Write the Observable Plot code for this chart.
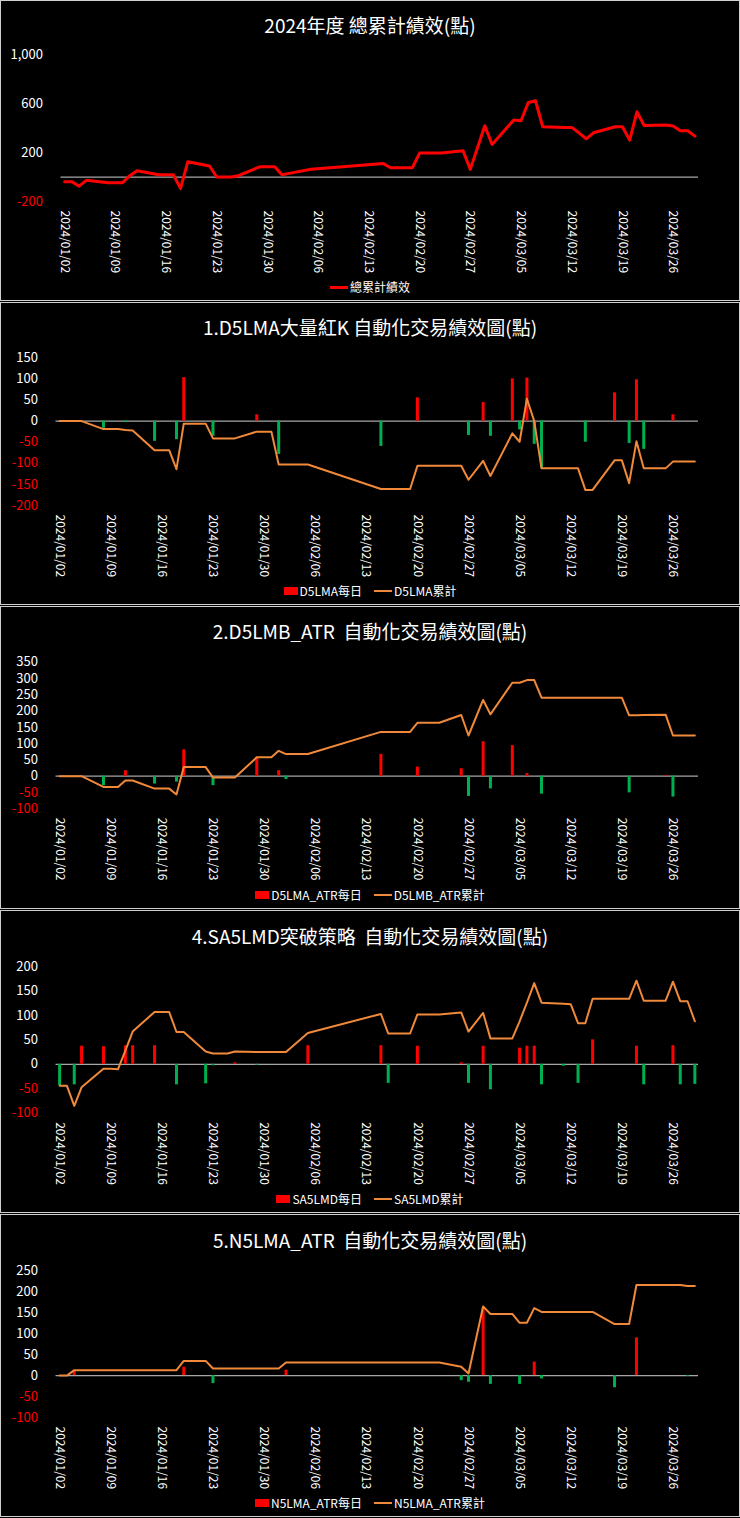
<!DOCTYPE html>
<html>
<head>
<meta charset="utf-8">
<script src="https://cdn.jsdelivr.net/npm/d3@7"></script>
<script src="https://cdn.jsdelivr.net/npm/@observablehq/plot@0.6"></script>
<style>
html, body { margin: 0; padding: 0; background: #000; }
body { width: 740px; height: 1518px; position: relative; overflow: hidden;
  font-family: "Noto Sans CJK TC", "Noto Sans", sans-serif; color: #fff; }
.panel { position: absolute; left: 0; width: 740px; box-sizing: border-box; border: 1.5px solid #cfcfcf; }
.title { position: absolute; left: 0; width: 740px; text-align: center; font-size: 19px; line-height: 24px;
  color: #fff; white-space: pre; }
.legend { position: absolute; left: 0; width: 740px; display: flex; justify-content: center; align-items: center;
  gap: 12px; font-size: 12px; line-height: 14px; color: #fff; white-space: nowrap; }
.legend .item { display: flex; align-items: center; gap: 2px; }
.chart { position: absolute; left: 0; }
</style>
</head>
<body>
<script>
// ---------------- data ----------------
const dates = [
  "2024-01-02","2024-01-03","2024-01-04","2024-01-05",
  "2024-01-08","2024-01-09","2024-01-10","2024-01-11","2024-01-12",
  "2024-01-15","2024-01-16","2024-01-17","2024-01-18","2024-01-19",
  "2024-01-22","2024-01-23","2024-01-24","2024-01-25","2024-01-26",
  "2024-01-29","2024-01-30","2024-01-31",
  "2024-02-01","2024-02-02",
  "2024-02-05",
  "2024-02-15","2024-02-16",
  "2024-02-19","2024-02-20","2024-02-21","2024-02-22","2024-02-23",
  "2024-02-26","2024-02-27","2024-02-29",
  "2024-03-01",
  "2024-03-04","2024-03-05","2024-03-06","2024-03-07","2024-03-08",
  "2024-03-11","2024-03-12","2024-03-13","2024-03-14","2024-03-15",
  "2024-03-18","2024-03-19","2024-03-20","2024-03-21","2024-03-22",
  "2024-03-25","2024-03-26","2024-03-27","2024-03-28","2024-03-29"
];
const xTicks = ["2024-01-02","2024-01-09","2024-01-16","2024-01-23","2024-01-30","2024-02-06","2024-02-13",
  "2024-02-20","2024-02-27","2024-03-05","2024-03-12","2024-03-19","2024-03-26"];

const totalCum = [-38,-38,-74,-27, -46,-46,-46,11,52, 19,19,19,-93,125, 90,0,0,0,11, 85,85,85, 19,30, 63,
  110,76, 76,196,196,196,196, 215,63,420, 267, 466,460,610,624,411, 406,406,362,313,362,
  411,411,302,534,422, 425,417,379,379,335];

const d5lmaDaily = [0,0,0,0, -17,0,0,-3,0, -48,0,0,-44,103, 0,-36,0,0,0, 15,0,0, -79,0, 0,
  -60,0, 0,55,0,0,0, 0,-34,44, -36, 100,-21,102,-55,-111, 0,0,0,-50,0,
  67,0,-53,98,-67, 0,15,0,0,0];
const d5lmaCum = [0,0,0,0, -19,-19,-19,-21,-22, -69,-69,-69,-114,-6, -6,-41,-41,-41,-41, -25,-25,-25, -103,-103, -103,
  -161,-161, -161,-106,-106,-106,-106, -106,-139,-94, -130, -29,-49,53,0,-112, -112,-112,-112,-163,-163,
  -93,-93,-147,-48,-112, -112,-96,-96,-96,-96];

const d5lmbDaily = [0,0,0,0, -29,0,0,17,0, -24,0,0,-18,81, 0,-29,0,0,0, 58,0,0, 17,-10, 0,
  67,0, 0,28,0,0,0, 23,-62,106, -39, 94,0,8,0,-55, 0,0,0,0,0,
  0,0,-51,0,0, 2,-64,0,0,0];
const d5lmbCum = [0,0,0,0, -33,-33,-33,-13,-13, -38,-38,-38,-56,28, 28,-4,-4,-4,-4, 58,58,58, 78,68, 68,
  136,136, 136,164,164,164,164, 188,125,234, 190, 287,287,295,295,241, 241,241,241,241,241,
  241,241,187,187,188, 189,125,125,125,125];

const sa5lmdDaily = [-44,0,-42,37, 36,0,0,38,38, 38,0,0,-42,0, -40,-3,0,0,3, -2,0,0, 0,0, 38,
  38,-39, 0,37,0,0,0, 3,-39,37, -52, 0,33,37,37,-42, -4,0,-39,0,50,
  0,0,0,37,-42, 0,38,-42,0,-41];
const sa5lmdCum = [-44,-44,-85,-47, -9,-9,-10,28,67, 107,107,107,66,66, 26,22,22,22,26, 25,25,25, 25,25, 64,
  103,63, 63,102,102,102,102, 106,67,105, 53, 53,88,126,166,126, 124,123,84,84,134,
  134,134,134,171,130, 130,169,129,129,88];

const n5lmaDaily = [0,0,12,0, 0,0,0,0,0, 0,0,0,0,20, 0,-19,0,0,0, 0,0,0, 0,13, 0,
  0,0, 0,0,0,0,0, -12,-16,160, -21, 0,-21,0,32,-8, 0,0,0,0,0,
  -29,0,0,90,0, 0,0,0,-2,0];
const n5lmaCum = [0,0,13,13, 13,13,13,13,13, 13,13,13,13,35, 35,17,17,17,17, 17,17,17, 17,31, 31,
  31,31, 31,31,31,31,31, 21,5,165, 147, 147,126,126,161,152, 152,152,152,152,152,
  123,123,123,216,216, 216,216,216,214,214];

const titles = [
  "2024年度 總累計績效(點)",
  "1.D5LMA大量紅K 自動化交易績效圖(點)",
  "2.D5LMB_ATR  自動化交易績效圖(點)",
  "4.SA5LMD突破策略  自動化交易績效圖(點)",
  "5.N5LMA_ATR  自動化交易績效圖(點)"
];
const dailyNames = [null, "D5LMA每日", "D5LMA_ATR每日", "SA5LMD每日", "N5LMA_ATR每日"];
const cumNames = ["總累計績效", "D5LMA累計", "D5LMB_ATR累計", "SA5LMD累計", "N5LMA_ATR累計"];
const yTicksList = [
  [-200, 200, 600, 1000],
  [-200, -150, -100, -50, 0, 50, 100, 150],
  [-100, -50, 0, 50, 100, 150, 200, 250, 300, 350],
  [-100, -50, 0, 50, 100, 150, 200],
  [-100, -50, 0, 50, 100, 150, 200, 250]
];

// ---------------- styling / layout ----------------
const RED = "#ff0000", GREEN = "#00b050", ORANGE = "#f0893a", ZERO = "#a6a6a6";
const parse = s => new Date(s + "T00:00:00Z");
const fmtDate = d3.utcFormat("%Y/%m/%d");
const fmtNum = v => v.toLocaleString("en-US");
const xDomain = [new Date("2024-01-01T12:00:00Z"), new Date("2024-03-29T12:00:00Z")];

const panels = [
  {box: [0, 301], svgTop: 0, mL: 60.5, mT: 54.3, mB: 99, titleC: 25, legendC: 287,
   daily: null, cum: totalCum, lineColor: RED, lineWidth: 3},
  {box: [302, 605], svgTop: 302, mL: 55.5, mT: 55.3, mB: 97, titleC: 326.5, legendC: 591,
   daily: d5lmaDaily, cum: d5lmaCum, lineColor: ORANGE, lineWidth: 2},
  {box: [606, 909], svgTop: 607, mL: 55.5, mT: 54.7, mB: 98.7, titleC: 630.5, legendC: 895,
   daily: d5lmbDaily, cum: d5lmbCum, lineColor: ORANGE, lineWidth: 2},
  {box: [910, 1213], svgTop: 910, mL: 55.5, mT: 56, mB: 97.3, titleC: 935.5, legendC: 1199,
   daily: sa5lmdDaily, cum: sa5lmdCum, lineColor: ORANGE, lineWidth: 2},
  {box: [1214, 1517], svgTop: 1214, mL: 55.5, mT: 56.3, mB: 97, titleC: 1239.5, legendC: 1503,
   daily: n5lmaDaily, cum: n5lmaCum, lineColor: ORANGE, lineWidth: 2}
];

function makeChart(p, i) {
  const rows = dates.map((d, k) => ({date: parse(d), cum: p.cum[k], daily: p.daily ? p.daily[k] : 0}));
  const yT = yTicksList[i];
  const marks = [Plot.ruleY([0], {stroke: ZERO, strokeWidth: 1.3})];
  if (p.daily) {
    marks.push(Plot.ruleX(rows.filter(r => r.daily > 0), {x: "date", y1: 0, y2: "daily", stroke: RED, strokeWidth: 3}));
    marks.push(Plot.ruleX(rows.filter(r => r.daily < 0), {x: "date", y1: 0, y2: "daily", stroke: GREEN, strokeWidth: 3}));
  }
  marks.push(Plot.line(rows, {x: "date", y: "cum", stroke: p.lineColor, strokeWidth: p.lineWidth, strokeLinejoin: "round"}));
  marks.push(Plot.axisY(yT.filter(v => v >= 0), {tickSize: 0, tickPadding: 18, tickFormat: fmtNum, fill: "#ffffff", fontSize: 13, label: null}));
  marks.push(Plot.axisY(yT.filter(v => v < 0), {tickSize: 0, tickPadding: 18, tickFormat: fmtNum, fill: RED, fontSize: 13, label: null}));
  marks.push(Plot.axisX(xTicks.map(parse), {tickRotate: 90, tickSize: 0, tickPadding: 9, tickFormat: fmtDate, fill: "#ffffff", fontSize: 12, label: null}));
  const svg = Plot.plot({
    width: 740, height: 300,
    marginLeft: p.mL, marginRight: 42, marginTop: p.mT, marginBottom: p.mB,
    x: {type: "utc", domain: xDomain, axis: null},
    y: {domain: [yT[0], yT[yT.length - 1]], axis: null},
    style: {background: "transparent", color: "#fff", fontFamily: "'Noto Sans CJK TC', 'Noto Sans', sans-serif", overflow: "visible"},
    marks
  });
  svg.classList.add("chart");
  svg.style.top = p.svgTop + "px";
  svg.style.position = "absolute";
  return svg;
}

panels.forEach((p, i) => {
  const box = document.createElement("div");
  box.className = "panel";
  box.style.top = p.box[0] + "px";
  box.style.height = (p.box[1] - p.box[0]) + "px";
  document.body.appendChild(box);

  document.body.appendChild(makeChart(p, i));

  const t = document.createElement("div");
  t.className = "title";
  t.style.top = (p.titleC - 12) + "px";
  t.textContent = titles[i];
  document.body.appendChild(t);

  const lg = document.createElement("div");
  lg.className = "legend";
  lg.style.top = (p.legendC - 7) + "px";
  if (dailyNames[i]) {
    const it = document.createElement("div");
    it.className = "item";
    it.innerHTML = `<span style="display:inline-block;width:14px;height:8px;background:${RED}"></span><span>${dailyNames[i]}</span>`;
    lg.appendChild(it);
  }
  const it2 = document.createElement("div");
  it2.className = "item";
  it2.innerHTML = `<span style="display:inline-block;width:18px;height:${p.lineWidth}px;background:${p.lineColor}"></span><span>${cumNames[i]}</span>`;
  lg.appendChild(it2);
  document.body.appendChild(lg);
});
</script>
</body>
</html>
